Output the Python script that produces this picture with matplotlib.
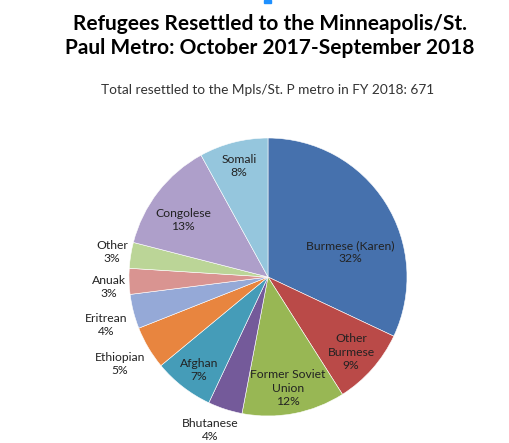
import matplotlib
matplotlib.use("Agg")
import matplotlib.pyplot as plt
from matplotlib.patches import Rectangle

plt.rcParams['font.family'] = ['Lato', 'DejaVu Sans']

# data (percent of 671 resettled)
groups = ['Burmese (Karen)', 'Other\nBurmese', 'Former Soviet\nUnion', 'Bhutanese',
          'Afghan', 'Ethiopian', 'Eritrean', 'Anuak', 'Other', 'Congolese', 'Somali']
percents = [32, 9, 12, 4, 7, 5, 4, 3, 3, 13, 8]

colours = ['#4671AD', '#BA4A48', '#98B754', '#745A9A', '#459CB8', '#E8853F',
           '#95A9D7', '#D99491', '#BBD597', '#AE9FCA', '#95C6DD']

# where each label sits (pixel centre of the block in the original)
label_px = [(350, 252), (351, 352), (288, 388), (210, 430), (199, 370), (120, 364),
            (106, 325), (109, 287), (112, 252), (183, 220), (239, 166)]

W, H = 509, 443
cx, cy, r = 268, 277, 139

fig = plt.figure(figsize=(W / 100, H / 100), dpi=100)
ax = fig.add_axes([(cx - r) / W, (H - cy - r) / H, 2 * r / W, 2 * r / H])

wedges, _ = ax.pie(percents, colors=colours, startangle=90, counterclock=False,
                   radius=1, wedgeprops=dict(edgecolor='white', linewidth=0.4))
ax.set_xlim(-1, 1)
ax.set_ylim(-1, 1)
ax.set_aspect('equal')
ax.axis('off')

for name, pct, (px, py) in zip(groups, percents, label_px):
    x = (px - cx) / r
    y = (cy - py) / r
    ax.text(x, y, f"{name}\n{pct}%", ha='center', va='center', fontsize=8.7,
            color='#222222', linespacing=1.25, clip_on=False)

fig.text(270 / W, 1 - 36 / H, "Refugees Resettled to the Minneapolis/St.\nPaul Metro: October 2017-September 2018",
         ha='center', va='center', fontsize=15, fontweight='bold', linespacing=1.3)
fig.text(268 / W, 1 - 90 / H, "Total resettled to the Mpls/St. P metro in FY 2018: 671",
         ha='center', va='center', fontsize=9.8, color='#333333')

# small blue mark at the top edge
fig.patches.append(Rectangle((264 / W, 1 - 3 / H), 7 / W, 3 / H, transform=fig.transFigure,
                             color='#1E90FF', figure=fig))

fig.savefig('out.png', dpi=100)
